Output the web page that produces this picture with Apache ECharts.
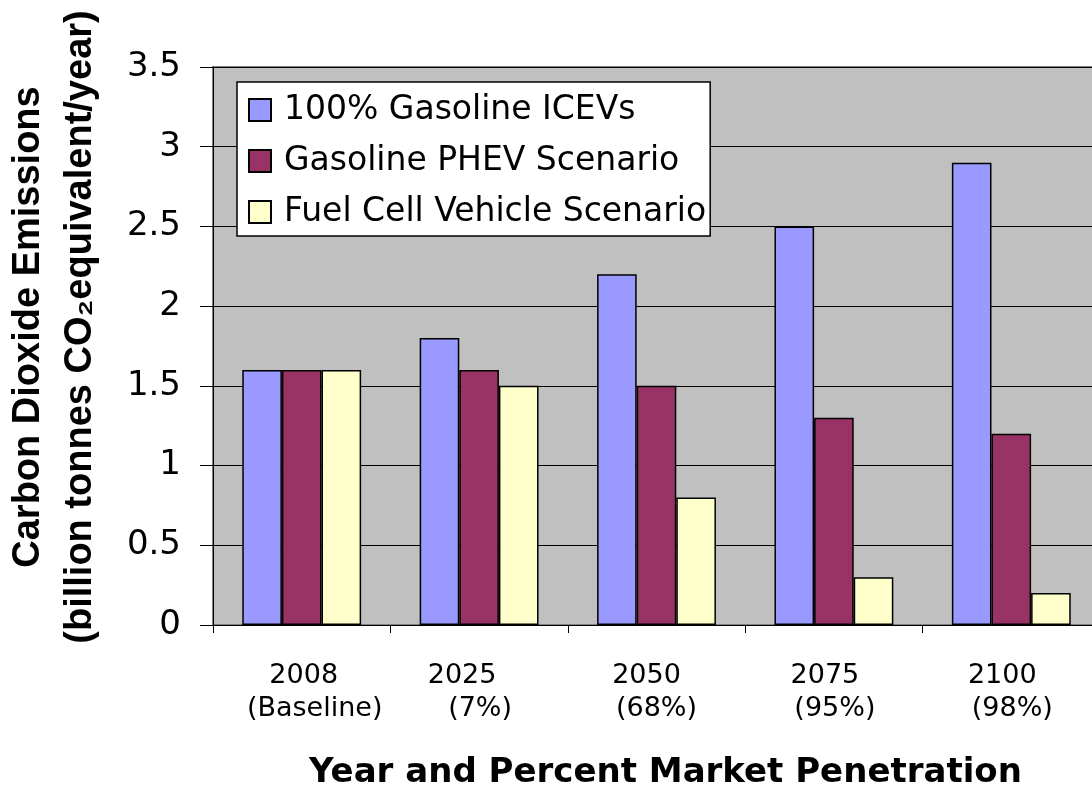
<!DOCTYPE html>
<html>
<head>
<meta charset="utf-8">
<script src="https://cdn.jsdelivr.net/npm/echarts@6/dist/echarts.min.js"></script>
<style>
  html, body { margin: 0; padding: 0; background: #fff; }
  #chart { width: 1092px; height: 793px; }
</style>
</head>
<body>
<div id="chart"></div>
<script>
const years = ['2008', '2025', '2050', '2075', '2100'];
const shares = ['(Baseline)', '(7%)', '(68%)', '(95%)', '(98%)'];
const seriesNames = ['100% Gasoline ICEVs', 'Gasoline PHEV Scenario', 'Fuel Cell Vehicle Scenario'];
const icevValues = [1.6, 1.8, 2.2, 2.5, 2.9];
const phevValues = [1.6, 1.6, 1.5, 1.3, 1.2];
const fcvValues = [1.6, 1.5, 0.8, 0.3, 0.2];
const yTicks = { min: 0, max: 3.5, step: 0.5 };

const colors = ['#9999FF', '#993366', '#FFFFCC'];
const font = 'DejaVu Sans';

// the two label lines are not centred alike in the original; nudge each one
const yearShift = [2, -17, -10, -9, -9];
const shareShift = [13, 1, 0, 1, 1];
const rich = {};
years.forEach((_, i) => {
    const pad = (s) => (s < 0 ? [0, -2 * s, 0, 0] : [0, 0, 0, 2 * s]);
    rich['y' + i] = { fontFamily: font, fontSize: 27, lineHeight: 33, color: '#000', padding: pad(yearShift[i]) };
    rich['s' + i] = { fontFamily: font, fontSize: 27, lineHeight: 33, color: '#000', padding: pad(shareShift[i]) };
});

const makeBar = (name, data, color) => ({
    name: name,
    type: 'bar',
    data: data,
    barGap: '0%',
    barCategoryGap: '33%',
    itemStyle: { color: color, borderColor: '#000', borderWidth: 1.5 },
});

const chart = echarts.init(document.getElementById('chart'));
chart.setOption({
    animation: false,
    backgroundColor: '#fff',
    grid: {
        left: 213, top: 67, width: 887, height: 558,
        outerBoundsMode: 'none',
        containLabel: false,
        show: true, backgroundColor: '#C0C0C0', borderColor: '#808080', borderWidth: 2,
    },
    legend: {
        orient: 'vertical',
        left: 237, top: 82,
        padding: [10, 4, 6, 11],
        itemGap: 15,
        itemWidth: 22, itemHeight: 22,
        icon: 'rect',
        backgroundColor: '#fff',
        borderColor: '#000', borderWidth: 1.5,
        borderRadius: 0,
        data: seriesNames,
        textStyle: { fontFamily: font, fontSize: 33, lineHeight: 36, color: '#000', padding: [0, 0, 0, 8] },
    },
    xAxis: {
        type: 'category',
        data: years,
        name: 'Year and Percent Market Penetration',
        nameLocation: 'middle',
        nameGap: 131,
        nameTextStyle: {
            fontFamily: font, fontWeight: 'bold', fontSize: 34, lineHeight: 34, color: '#000',
            padding: [0, 0, 0, 18],
        },
        axisLine: { lineStyle: { color: '#000', width: 1 } },
        axisTick: { show: true, length: 8, lineStyle: { color: '#000' } },
        axisLabel: {
            margin: 34,
            interval: 0,
            formatter: (v, i) => `{y${i}|${v}}\n{s${i}|${shares[i]}}`,
            rich: rich,
        },
    },
    yAxis: {
        type: 'value',
        min: yTicks.min, max: yTicks.max, interval: yTicks.step,
        name: 'Carbon Dioxide Emissions\n(billion tonnes CO\u2082equivalent/year)',
        nameLocation: 'middle',
        nameRotate: 90,
        nameGap: 106,
        nameTextStyle: {
            fontFamily: 'Liberation Sans', fontWeight: 'bold', fontSize: 38, lineHeight: 52, color: '#000',
            padding: [0, 0, 0, 38],
        },
        axisLine: { show: true, lineStyle: { color: '#000', width: 1 } },
        axisTick: { show: true, length: 13, lineStyle: { color: '#000' } },
        axisLabel: { fontFamily: font, fontSize: 34, color: '#000', margin: 32 },
        splitLine: { lineStyle: { color: '#000', width: 1 } },
    },
    series: [
        makeBar(seriesNames[0], icevValues, colors[0]),
        makeBar(seriesNames[1], phevValues, colors[1]),
        makeBar(seriesNames[2], fcvValues, colors[2]),
    ],
});
</script>
</body>
</html>
